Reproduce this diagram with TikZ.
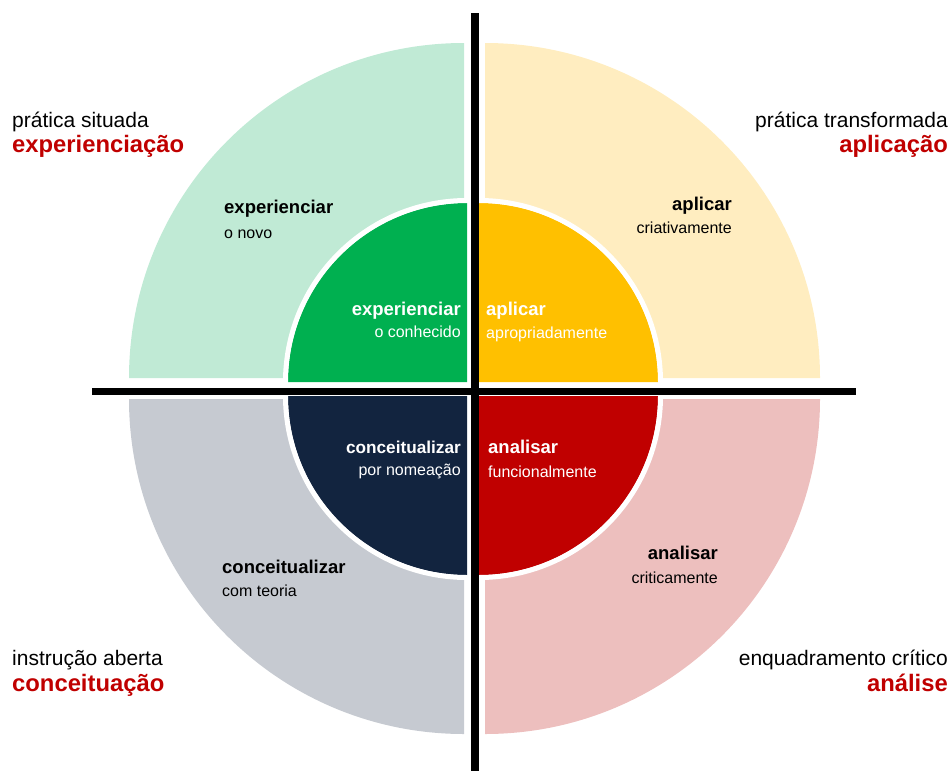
\documentclass[tikz,border=0pt]{standalone}
\usepackage{fontspec}
\setmainfont{Liberation Sans}
\begin{document}
\definecolor{lgreen}{HTML}{C0EAD5}
\definecolor{dgreen}{HTML}{00B050}
\definecolor{lyellow}{HTML}{FFEDC0}
\definecolor{dyellow}{HTML}{FFC000}
\definecolor{lgray}{HTML}{C6CAD1}
\definecolor{navy}{HTML}{12243F}
\definecolor{lpink}{HTML}{EDBFBE}
\definecolor{dred}{HTML}{C00000}
\begin{tikzpicture}[x=1pt,y=-1pt,
  ring/.style={draw=white,line width=5pt},
  axis/.style={line width=7.5pt,black},
  corner/.style={font=\fontsize{21}{25}\selectfont,inner sep=0pt},
  cornerbold/.style={font=\fontsize{23.8}{28}\selectfont\bfseries,text=dred,inner sep=0pt},
  headb/.style={font=\fontsize{18.5}{22}\selectfont\bfseries,inner sep=0pt},
  subt/.style={font=\fontsize{16}{19}\selectfont,inner sep=0pt}]
\useasboundingbox (0,0) rectangle (952,771);

% outer quarter discs
\fill[lgreen]  (464,378) -- (129,378) arc[start angle=180,end angle=270,radius=335] -- cycle;
\fill[lyellow] (485,378) -- (485,43)  arc[start angle=270,end angle=360,radius=335] -- cycle;
\fill[lgray]   (464,399) -- (129,399) arc[start angle=180,end angle=90,radius=335] -- cycle;
\fill[lpink]   (485,399) -- (820,399) arc[start angle=0,end angle=90,radius=335] -- cycle;

% inner quarter discs with white rims
\fill[dgreen]  (467,382) -- (288,382) arc[start angle=180,end angle=270,radius=179] -- cycle;
\fill[dyellow] (479,382) -- (479,203) arc[start angle=270,end angle=360,radius=179] -- cycle;
\fill[navy]    (467,396) -- (288,396) arc[start angle=180,end angle=90,radius=179] -- cycle;
\fill[dred]    (479,396) -- (658,396) arc[start angle=0,end angle=90,radius=179] -- cycle;
\draw[ring] (285.5,382) arc[start angle=180,end angle=270,radius=181.5];
\draw[ring] (479,200.5) arc[start angle=270,end angle=360,radius=181.5];
\draw[ring] (285.5,396) arc[start angle=180,end angle=90,radius=181.5];
\draw[ring] (660.5,396) arc[start angle=0,end angle=90,radius=181.5];

% axes
\coordinate (vtop) at (475,13);
\coordinate (vbot) at (475,771);
\coordinate (hleft) at (92,391.5);
\coordinate (hright) at (856,391.5);
\draw[axis] (vtop) -- (vbot);
\draw[axis] (hleft) -- (hright);

% corner labels
\node[corner,anchor=base west] (c1a) at (12,127) {prática situada};
\node[cornerbold,anchor=base west] (c1b) at (12,152) {experienciação};
\node[corner,anchor=base east] (c2a) at (948,127) {prática transformada};
\node[cornerbold,anchor=base east] (c2b) at (948,152) {aplicação};
\node[corner,anchor=base west] (c3a) at (12,665) {instrução aberta};
\node[cornerbold,anchor=base west] (c3b) at (12,691) {conceituação};
\node[corner,anchor=base east] (c4a) at (948,665) {enquadramento crítico};
\node[cornerbold,anchor=base east] (c4b) at (948,691) {análise};

% outer ring labels
\node[headb,anchor=base west] (o1a) at (224,213) {experienciar};
\node[subt,anchor=base west] (o1b) at (224,238) {o novo};
\node[headb,anchor=base east] (o2a) at (732,210) {aplicar};
\node[subt,anchor=base east] (o2b) at (732,233) {criativamente};
\node[headb,anchor=base west] (o3a) at (222,573) {conceitualizar};
\node[subt,anchor=base west] (o3b) at (222,596) {com teoria};
\node[headb,anchor=base east] (o4a) at (718,559) {analisar};
\node[subt,anchor=base east] (o4b) at (718,583) {criticamente};

% inner disc labels
\node[headb,text=white,anchor=base east] (i1a) at (461,315) {experienciar};
\node[subt,text=white,anchor=base east] (i1b) at (461,337) {o conhecido};
\node[headb,text=white,anchor=base west] (i2a) at (486,315) {aplicar};
\node[subt,text=white,anchor=base west] (i2b) at (486,338) {apropriadamente};
\node[headb,text=white,anchor=base east,font=\fontsize{17.2}{21}\selectfont\bfseries] (i3a) at (461,453) {conceitualizar};
\node[subt,text=white,anchor=base east] (i3b) at (461,475) {por nomeação};
\node[headb,text=white,anchor=base west] (i4a) at (488,453) {analisar};
\node[subt,text=white,anchor=base west] (i4b) at (488,477) {funcionalmente};
\end{tikzpicture}
\end{document}
